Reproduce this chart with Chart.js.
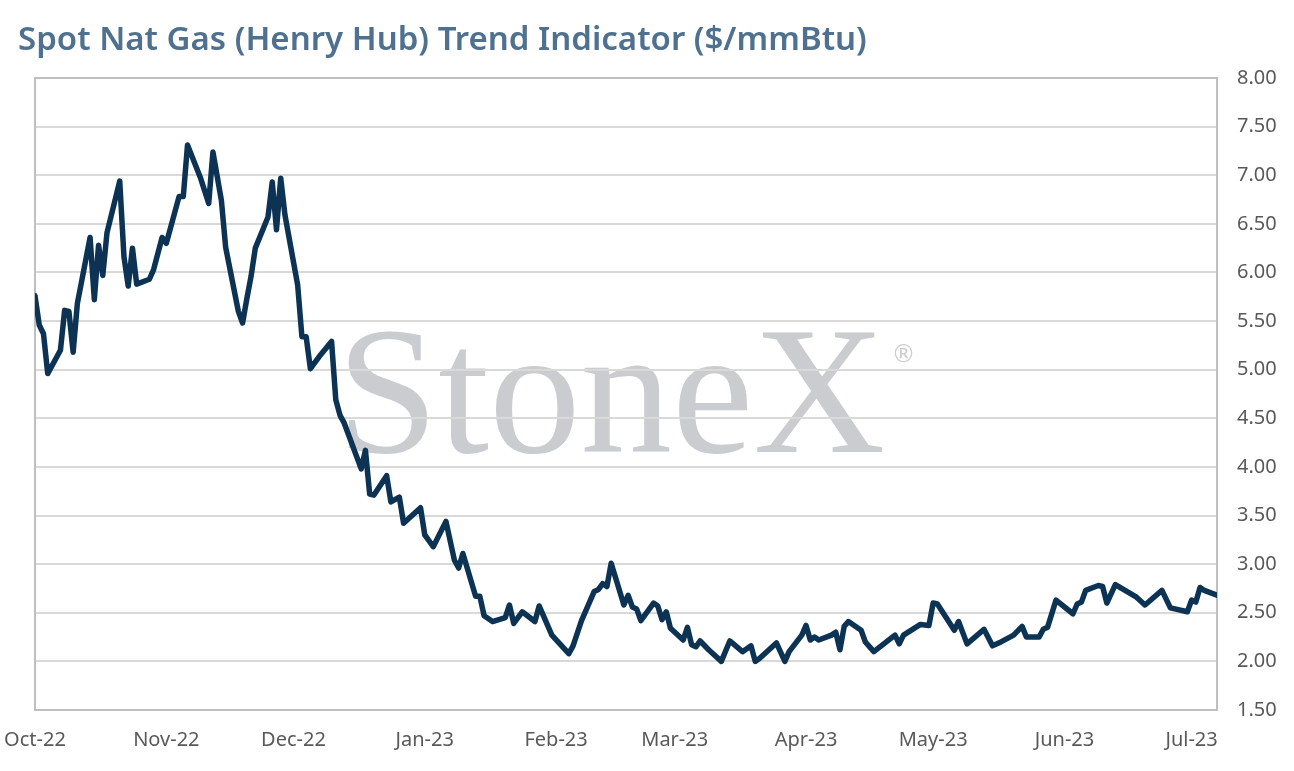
<!DOCTYPE html>
<html>
<head>
<meta charset="utf-8">
<script src="https://cdn.jsdelivr.net/npm/chart.js@4.4.0/dist/chart.umd.min.js"></script>
<style>
  html, body { margin: 0; padding: 0; background: #fff; }
  #wrap { position: relative; width: 1294px; height: 771px; }
  #title {
    position: absolute; left: 18px; top: 15px;
    font: 600 33px "Noto Sans", sans-serif; color: #4e7190;
    white-space: nowrap;
  }
  #chart { position: absolute; left: 0; top: 0; }
</style>
</head>
<body>
<div id="wrap">
  <canvas id="chart" width="1294" height="771"></canvas>
  <div id="title">Spot Nat Gas (Henry Hub) Trend Indicator ($/mmBtu)</div>
</div>
<script>
// ========================================
// 데이터
// ========================================
const dates = [
  '2022-10-01','2022-10-02','2022-10-03','2022-10-04','2022-10-07','2022-10-08','2022-10-09','2022-10-10',
  '2022-10-11','2022-10-14','2022-10-15','2022-10-16','2022-10-17','2022-10-18','2022-10-21','2022-10-22',
  '2022-10-23','2022-10-24','2022-10-25','2022-10-28','2022-10-29','2022-10-31','2022-11-01','2022-11-04',
  '2022-11-05','2022-11-06','2022-11-09','2022-11-11','2022-11-12','2022-11-14','2022-11-15','2022-11-18',
  '2022-11-19','2022-11-20','2022-11-21','2022-11-22','2022-11-25','2022-11-26','2022-11-27','2022-11-28',
  '2022-11-29','2022-12-02','2022-12-03','2022-12-04','2022-12-05','2022-12-07','2022-12-10','2022-12-11',
  '2022-12-12','2022-12-13','2022-12-17','2022-12-18','2022-12-19','2022-12-20','2022-12-23','2022-12-24',
  '2022-12-26','2022-12-27','2022-12-31','2023-01-01','2023-01-03','2023-01-06','2023-01-08','2023-01-09',
  '2023-01-10','2023-01-13','2023-01-14','2023-01-15','2023-01-17','2023-01-20','2023-01-21','2023-01-22',
  '2023-01-24','2023-01-27','2023-01-28','2023-01-31','2023-02-04','2023-02-05','2023-02-07','2023-02-10',
  '2023-02-11','2023-02-12','2023-02-13','2023-02-14','2023-02-17','2023-02-18','2023-02-19','2023-02-20',
  '2023-02-21','2023-02-24','2023-02-25','2023-02-26','2023-02-27','2023-02-28','2023-03-03','2023-03-04',
  '2023-03-05','2023-03-06','2023-03-07','2023-03-09','2023-03-12','2023-03-14','2023-03-17','2023-03-19',
  '2023-03-20','2023-03-21','2023-03-25','2023-03-27','2023-03-28','2023-03-31','2023-04-01','2023-04-02',
  '2023-04-03','2023-04-04','2023-04-07','2023-04-08','2023-04-09','2023-04-10','2023-04-11','2023-04-14',
  '2023-04-15','2023-04-17','2023-04-22','2023-04-23','2023-04-24','2023-04-28','2023-04-30','2023-05-01',
  '2023-05-02','2023-05-06','2023-05-07','2023-05-09','2023-05-13','2023-05-15','2023-05-17','2023-05-20',
  '2023-05-22','2023-05-23','2023-05-26','2023-05-27','2023-05-28','2023-05-30','2023-06-03','2023-06-04',
  '2023-06-05','2023-06-06','2023-06-09','2023-06-10','2023-06-11','2023-06-13','2023-06-18','2023-06-20',
  '2023-06-24','2023-06-26','2023-06-30','2023-07-01','2023-07-02','2023-07-03','2023-07-04','2023-07-07'
];

const prices = [
  5.76, 5.46, 5.37, 4.96, 5.20, 5.61, 5.60, 5.18,
  5.68, 6.36, 5.72, 6.28, 5.97, 6.41, 6.94, 6.16,
  5.86, 6.25, 5.88, 5.93, 6.03, 6.36, 6.30, 6.78,
  6.78, 7.31, 6.98, 6.71, 7.24, 6.74, 6.26, 5.60,
  5.48, 5.73, 5.96, 6.25, 6.57, 6.93, 6.44, 6.97,
  6.59, 5.87, 5.34, 5.34, 5.01, 5.13, 5.29, 4.69,
  4.53, 4.45, 3.98, 4.17, 3.72, 3.71, 3.91, 3.64,
  3.69, 3.42, 3.58, 3.30, 3.18, 3.44, 3.04, 2.96,
  3.11, 2.67, 2.67, 2.47, 2.41, 2.45, 2.58, 2.39,
  2.51, 2.41, 2.57, 2.27, 2.08, 2.16, 2.42, 2.72,
  2.74, 2.80, 2.77, 3.01, 2.58, 2.68, 2.56, 2.54,
  2.42, 2.60, 2.57, 2.43, 2.51, 2.34, 2.22, 2.35,
  2.17, 2.15, 2.21, 2.12, 2.00, 2.21, 2.10, 2.16,
  2.00, 2.03, 2.19, 2.00, 2.10, 2.27, 2.37, 2.22,
  2.25, 2.22, 2.27, 2.30, 2.12, 2.36, 2.41, 2.32,
  2.20, 2.10, 2.27, 2.18, 2.27, 2.38, 2.37, 2.60,
  2.59, 2.32, 2.41, 2.18, 2.33, 2.16, 2.20, 2.27,
  2.36, 2.25, 2.25, 2.33, 2.35, 2.63, 2.49, 2.59,
  2.61, 2.73, 2.78, 2.77, 2.60, 2.79, 2.66, 2.58,
  2.73, 2.55, 2.51, 2.63, 2.61, 2.76, 2.73, 2.68
];

// x축 월 눈금
const monthTicks = ['2022-10-01','2022-11-01','2022-12-01','2023-01-01','2023-02-01',
                    '2023-03-01','2023-04-01','2023-05-01','2023-06-01','2023-07-01'];
const monthLabels = ['Oct-22','Nov-22','Dec-22','Jan-23','Feb-23',
                     'Mar-23','Apr-23','May-23','Jun-23','Jul-23'];

// y축 범위
const yMin = 1.5;
const yMax = 8.0;
const yStep = 0.5;

// 날짜 -> 기준일(2022-10-01)부터의 일수
function dayOf(s) {
  const [y, m, d] = s.split('-').map(Number);
  return (Date.UTC(y, m - 1, d) - Date.UTC(2022, 9, 1)) / 86400000;
}

// ========================================
// 워터마크 (격자보다 먼저 그림)
// ========================================
const watermark = {
  id: 'watermark',
  beforeDraw(chart) {
    const { ctx, chartArea: a } = chart;
    const w = a.right - a.left, h = a.bottom - a.top;
    ctx.save();
    ctx.fillStyle = '#cbccd0';
    ctx.textBaseline = 'alphabetic';
    ctx.font = '183px "Liberation Serif", serif';
    const x = a.left + w * 0.255;
    const y = a.top + h * 0.592;
    ctx.fillText('StoneX', x, y);
    const tw = ctx.measureText('StoneX').width;
    ctx.font = '24px "DejaVu Sans", sans-serif';
    ctx.fillText('®', x + tw + 6, a.top + h * 0.45);
    ctx.restore();
  }
};

// 플롯 영역 테두리
const plotBox = {
  id: 'plotBox',
  beforeDatasetsDraw(chart) {
    const { ctx, chartArea: a } = chart;
    ctx.save();
    ctx.strokeStyle = '#bfbfbf';
    ctx.lineWidth = 2;
    ctx.strokeRect(a.left, a.top, a.right - a.left, a.bottom - a.top);
    ctx.restore();
  }
};

const tickFont = { family: '"Noto Sans", sans-serif', size: 20 };

new Chart(document.getElementById('chart').getContext('2d'), {
  type: 'line',
  data: {
    datasets: [{
      data: dates.map((d, i) => ({ x: dayOf(d), y: prices[i] })),
      borderColor: '#0c3354',
      borderWidth: 5.5,
      pointRadius: 0,
      tension: 0,
      borderJoinStyle: 'round',
      borderCapStyle: 'round'
    }]
  },
  options: {
    responsive: false,
    animation: false,
    layout: { padding: { left: 35, right: 0, top: 78, bottom: 0 } },
    plugins: { legend: { display: false }, tooltip: { enabled: false } },
    scales: {
      x: {
        type: 'linear',
        min: 0,
        max: dayOf(dates[dates.length - 1]),
        afterBuildTicks: axis => { axis.ticks = monthTicks.map(d => ({ value: dayOf(d) })); },
        afterFit: axis => { axis.height = 61; axis.paddingLeft = 0; axis.paddingRight = 0; },
        ticks: {
          autoSkip: false,
          maxRotation: 0,
          font: tickFont,
          color: '#595959',
          padding: 10,
          callback: (v, i) => monthLabels[i]
        },
        grid: { display: false },
        border: { display: false }
      },
      y: {
        position: 'right',
        min: yMin,
        max: yMax,
        afterFit: axis => { axis.width = 77; },
        ticks: {
          stepSize: yStep,
          font: tickFont,
          color: '#595959',
          padding: 20,
          callback: v => v.toFixed(2)
        },
        grid: { color: '#d9d9d9', lineWidth: 2, drawTicks: false },
        border: { display: false }
      }
    }
  },
  plugins: [watermark, plotBox]
});
</script>
</body>
</html>
